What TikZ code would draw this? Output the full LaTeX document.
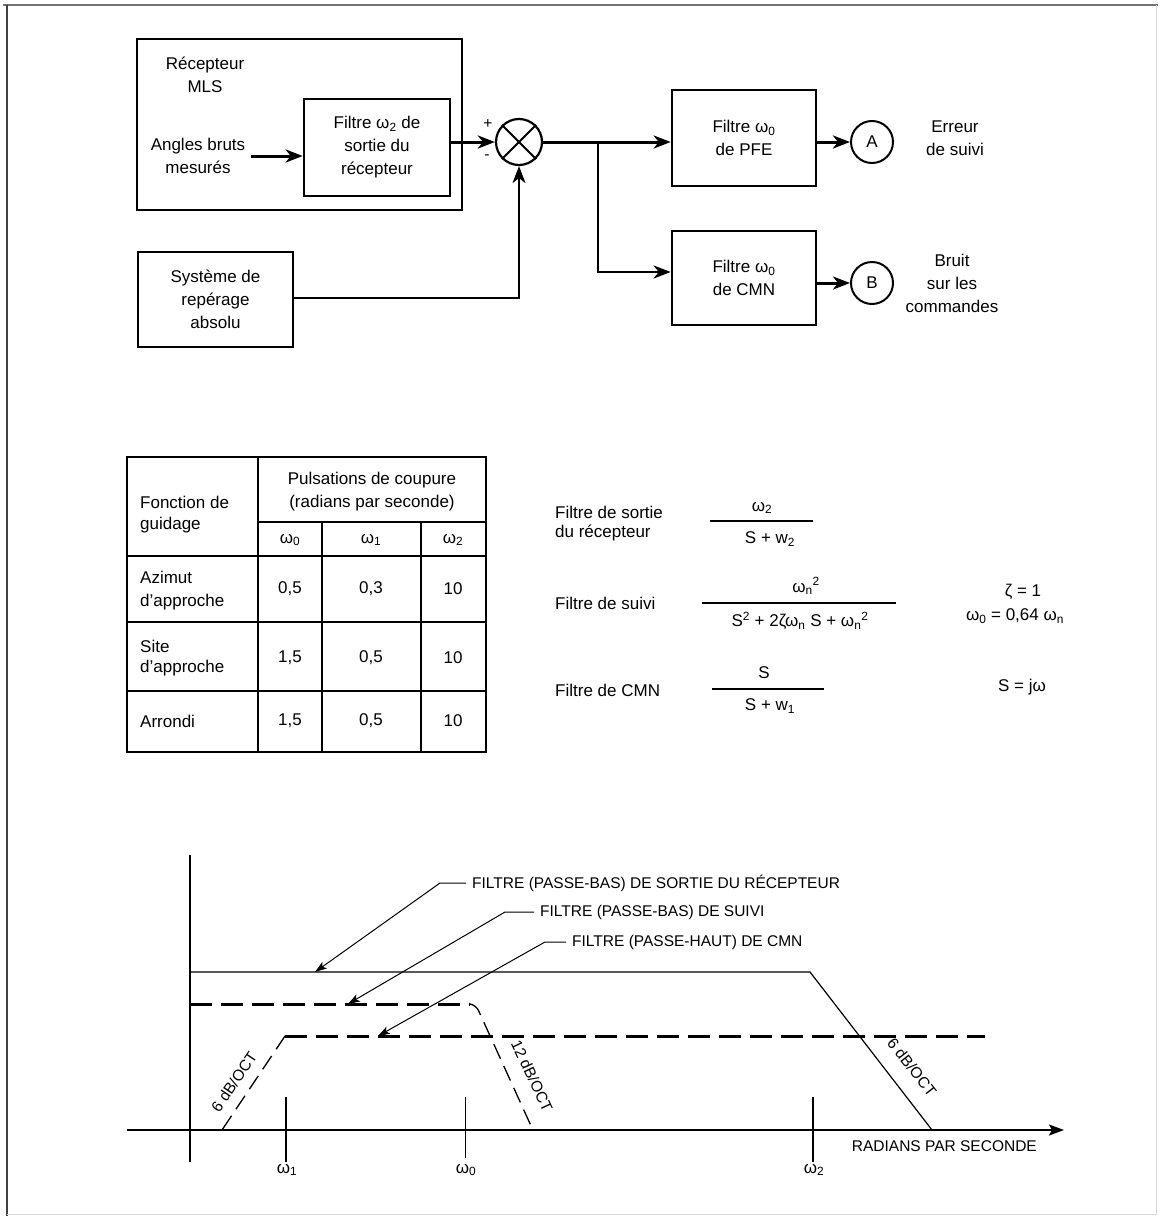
\documentclass[tikz,border=0pt]{standalone}
\usepackage{fontspec}
\setmainfont{Liberation Sans}
\usetikzlibrary{arrows.meta}
\newcommand\fsA{\fontsize{17}{23}\selectfont}
\newcommand\fsB{\fontsize{17}{21}\selectfont}
\newcommand\fsC{\fontsize{15.5}{18}\selectfont}
\begin{document}
\begin{tikzpicture}[x=1pt,y=-1pt,
  box/.style={draw, line width=2.6pt, inner sep=0pt},
  txt/.style={font=\fsA, align=center, inner sep=0pt},
  ltxt/.style={font=\fsA, align=left, inner sep=0pt, anchor=west},
  gtxt/.style={font=\fsC, inner sep=0pt},
  arr/.style={-{Stealth[length=17pt,width=13pt,inset=5pt]}, line width=3pt},
  arrthin/.style={-{Stealth[length=17pt,width=13pt,inset=5pt]}, line width=1.8pt},
  lead/.style={-{Stealth[length=12pt,width=8pt,inset=3pt]}, line width=1pt},
  tline/.style={line width=1.5pt},
  thickdash/.style={line width=3pt, dash pattern=on 22pt off 9pt},
  thindash/.style={line width=1.3pt, dash pattern=on 16pt off 8pt},
]
\useasboundingbox (0,0) rectangle (1161,1220);
% frame
\draw[line width=2pt, black!55] (3,5) -- (1158,5);
\draw[line width=2pt, black!75] (7,5) -- (7,1216);
\draw[line width=1pt, black!15] (1156,5) -- (1156,1214) -- (7,1214);

% ---------------- block diagram ----------------
\node[box, minimum width=325pt, minimum height=171pt] (mls) at (299.5,124.5) {};
\node[txt] (mlst) at (205,75) {Récepteur\\MLS};
\node[box, minimum width=146pt, minimum height=97pt, txt] (f2) at (377,147.5) {Filtre ω\textsubscript{2} de\\sortie du\\récepteur};
\node[txt] (ang) at (198,156) {Angles bruts\\mesurés};
\node[box, minimum width=155pt, minimum height=95pt, txt] (sys) at (215.5,299.5) {Système de\\repérage\\absolu};
\node[draw, circle, line width=2.2pt, minimum size=46pt, inner sep=0pt] (sum) at (519,142) {};
\draw[line width=2pt] (sum.45) -- (sum.225) (sum.135) -- (sum.315);
\node[font=\fsC, inner sep=0pt] (plus) at (488,124) {+};
\node[font=\fsC, inner sep=0pt] (minus) at (487,157) {-};
\node[box, minimum width=144pt, minimum height=96pt, txt] (pfe) at (744,138) {Filtre ω\textsubscript{0}\\de PFE};
\node[box, minimum width=144pt, minimum height=94pt, txt] (cmn) at (744,278) {Filtre ω\textsubscript{0}\\de CMN};
\node[draw, circle, line width=2pt, minimum size=42pt, inner sep=0pt, font=\fsA] (A) at (872,142) {A};
\node[draw, circle, line width=2pt, minimum size=42pt, inner sep=0pt, font=\fsA] (B) at (872,283) {B};
\node[txt] (errt) at (955,138) {Erreur\\de suivi};
\node[txt] (brt) at (952,283) {Bruit\\sur les\\commandes};

\draw[arr] (ang.east |- 0,156) ++(6,0) -- (f2.west |- 0,156);
\draw[arr] (f2.east |- sum) -- (sum.west);
\coordinate (j) at (598,142);
\draw[arr] (sum.east) -- (pfe.west |- sum);
\draw[arrthin] (j) |- (cmn.west |- 0,272);
\draw[arrthin] (sys.east |- 0,298) -| (sum.south);
\draw[arr] (pfe.east |- A) -- (A.west);
\draw[arr] (cmn.east |- B) -- (B.west);

% ---------------- table ----------------
\draw[tline] (127,457) rectangle (486,752);
\draw[tline] (258,457) -- (258,752);
\draw[tline] (322,522) -- (322,752);
\draw[tline] (421,522) -- (421,752);
\draw[tline] (258,522) -- (486,522);
\draw[tline] (127,556) -- (486,556);
\draw[tline] (127,622) -- (486,622);
\draw[tline] (127,691) -- (486,691);
\node[ltxt] (c1) at (140,502) {Fonction de};
\node[ltxt] (c2) at (140,525) {guidage};
\node[txt] (ph) at (372,492) {Pulsations de coupure\\(radians par seconde)};
\node[txt] (w0h) at (290,540) {ω\textsubscript{0}};
\node[txt] (w1h) at (371,540) {ω\textsubscript{1}};
\node[txt] (w2h) at (453,540) {ω\textsubscript{2}};
\node[ltxt] (r1a) at (140,577) {Azimut};
\node[ltxt] (r1b) at (140,602) {d'approche};
\node[txt] (r1c) at (290,589) {0,5};
\node[txt] (r1d) at (371,589) {0,3};
\node[txt] (r1e) at (453,589) {10};
\node[ltxt] (r2a) at (140,646) {Site};
\node[ltxt] (r2b) at (140,668) {d'approche};
\node[txt] (r2c) at (290,658) {1,5};
\node[txt] (r2d) at (371,658) {0,5};
\node[txt] (r2e) at (453,658) {10};
\node[ltxt] (r3a) at (140,721) {Arrondi};
\node[txt] (r3c) at (290,721) {1,5};
\node[txt] (r3d) at (371,721) {0,5};
\node[txt] (r3e) at (453,721) {10};

% ---------------- formulas ----------------
\node[ltxt, font=\fsB] (fa) at (555,512) {Filtre de sortie};
\node[ltxt, font=\fsB] (fb) at (555,533) {du récepteur};
\node[txt, font=\fsB] (n1) at (762,508) {ω\textsubscript{2}};
\draw[line width=1.3pt] (710,521) -- (813,521);
\node[txt, font=\fsB] (d1) at (770,539) {S + w\textsubscript{2}};
\node[ltxt, font=\fsB] (fc) at (555,603) {Filtre de suivi};
\node[txt, font=\fsB] (n2) at (806,586) {ω\textsubscript{n}\textsuperscript{2}};
\draw[line width=1.3pt] (702,603) -- (896,603);
\node[txt, font=\fsB] (d2) at (800,621) {S\textsuperscript{2} + 2ζω\textsubscript{n} S + ω\textsubscript{n}\textsuperscript{2}};
\node[txt, font=\fsB] (z1) at (1023,592) {ζ = 1};
\node[txt, font=\fsB] (z2) at (1015,616) {ω\textsubscript{0} = 0,64 ω\textsubscript{n}};
\node[ltxt, font=\fsB] (fd) at (555,690) {Filtre de CMN};
\node[txt, font=\fsB] (n3) at (764,673) {S};
\draw[line width=1.3pt] (712,689) -- (824,689);
\node[txt, font=\fsB] (d3) at (770,706) {S + w\textsubscript{1}};
\node[txt, font=\fsB] (sj) at (1022,687) {S = jω};

% ---------------- graph ----------------
\draw[line width=1.4pt] (190,855) -- (190,1162);
\draw[line width=2.2pt, -{Stealth[length=15pt,width=11pt,inset=3pt]}] (127,1130) -- (1064,1130);
\draw[line width=1.5pt] (286,1097) -- (286,1162);
\draw[line width=1pt] (465,1097) -- (465,1158);
\draw[line width=1.5pt] (813,1097) -- (813,1162);
\node[gtxt, font=\fsB] (om1) at (287,1170) {ω\textsubscript{1}};
\node[gtxt, font=\fsB] (om0) at (466,1170) {ω\textsubscript{0}};
\node[gtxt, font=\fsB] (om2) at (814,1170) {ω\textsubscript{2}};
\node[gtxt, anchor=east] (rps) at (1037,1146) {RADIANS PAR SECONDE};

% receiver filter (solid)
\draw[line width=1.2pt] (190,972) -- (810,972) -- (932,1130);
% tracking filter (dashed)
\draw[thickdash] (190,1004) -- (470,1004);
\draw[thindash, rounded corners=6pt] (470,1004) -- (476,1005) -- (532,1128);
% CMN filter (dashed)
\draw[thickdash] (285,1036) -- (985,1036);
\draw[thindash] (285,1036) -- (222,1130);

\node[gtxt, rotate=56] (s6a) at (234,1082) {6 dB/OCT};
\node[gtxt, rotate=-65] (s12) at (532,1076) {12 dB/OCT};
\node[gtxt, rotate=-52] (s6b) at (912,1067) {6 dB/OCT};

% leaders
\node[gtxt, anchor=west] (L1) at (472,883) {FILTRE (PASSE-BAS) DE SORTIE DU RÉCEPTEUR};
\node[gtxt, anchor=west] (L2) at (540,912) {FILTRE (PASSE-BAS) DE SUIVI};
\node[gtxt, anchor=west] (L3) at (572,942) {FILTRE (PASSE-HAUT) DE CMN};
\coordinate (k1) at (440,883);
\coordinate (k2) at (505,912);
\coordinate (k3) at (545,942);
\coordinate (t1) at (315,972);
\coordinate (t2) at (348,1004);
\coordinate (t3) at (378,1036);
\draw[lead] ([xshift=-6pt]L1.west) -- (k1) -- (t1);
\draw[lead] ([xshift=-6pt]L2.west) -- (k2) -- (t2);
\draw[lead] ([xshift=-6pt]L3.west) -- (k3) -- (t3);
\end{tikzpicture}
\end{document}
